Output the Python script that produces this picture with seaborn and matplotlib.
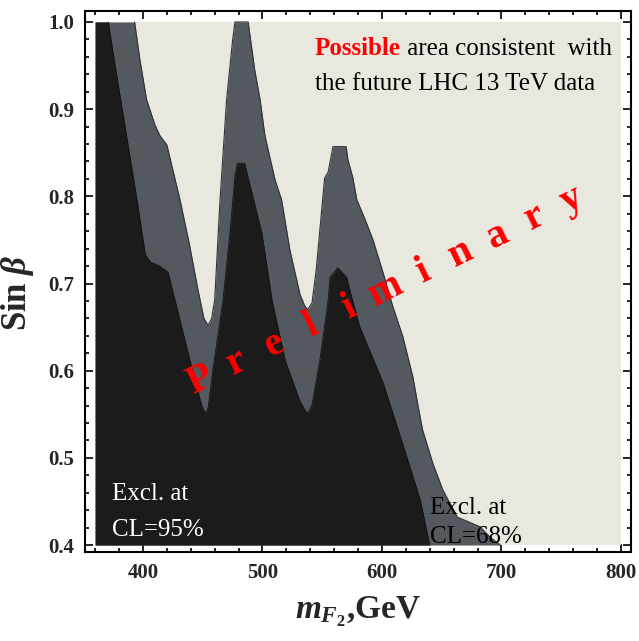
import numpy as np
import matplotlib
matplotlib.use("Agg")
import matplotlib.pyplot as plt
import seaborn as sns

# ---- data: boundaries of the excluded regions (x in GeV, y = sin beta) ----
black_x = [360, 371, 376, 395, 402, 406, 414, 421, 431, 443.5, 449, 452, 454.5, 458.5,
           467, 473, 477, 479, 485, 489.5, 499.5, 508, 519, 531, 535.5, 538, 541.5,
           548, 555, 556.5, 563, 570.5, 573, 581.5, 601, 619, 632, 640, 800]
black_y = [1.0, 1.0, 0.956, 0.796, 0.733, 0.725, 0.720, 0.713, 0.658, 0.589, 0.561, 0.551,
           0.557, 0.601, 0.681, 0.761, 0.824, 0.838, 0.838, 0.813, 0.758, 0.681, 0.612,
           0.566, 0.555, 0.551, 0.561, 0.612, 0.681, 0.707, 0.718, 0.707, 0.693, 0.650,
           0.586, 0.509, 0.452, 0.400, 0.400]

gray_x = [360, 393, 397.5, 403, 410, 414, 420, 424, 431, 439, 446, 451, 454.5, 457.5,
          460, 464.5, 470, 475, 477, 488, 493.5, 498, 502, 510.5, 516, 523, 531.5,
          535.5, 538, 541.5, 545, 548, 552, 555, 559, 570, 571.5, 575.5, 579, 586,
          592.5, 601, 609, 617.5, 626, 630, 634, 642.5, 651, 663, 673.5, 682, 690.5,
          699, 800]
gray_y = [1.0, 1.0, 0.956, 0.911, 0.882, 0.870, 0.859, 0.836, 0.796, 0.744, 0.693, 0.660,
          0.652, 0.660, 0.681, 0.796, 0.911, 0.979, 1.0, 1.0, 0.945, 0.911, 0.870, 0.819,
          0.796, 0.738, 0.687, 0.674, 0.670, 0.678, 0.716, 0.761, 0.821, 0.828, 0.857,
          0.857, 0.842, 0.822, 0.796, 0.773, 0.750, 0.712, 0.674, 0.639, 0.592, 0.561,
          0.532, 0.494, 0.463, 0.432, 0.426, 0.421, 0.409, 0.400, 0.400]

x_range = [360, 800]
y_range = [0.4, 1.0]
x_ticks = [400, 500, 600, 700, 800]
y_ticks = [0.4, 0.5, 0.6, 0.7, 0.8, 0.9, 1.0]
prelim_letters = list("Preliminary")

# ---- style ----
sns.set_theme(style="ticks")
plt.rcParams["font.family"] = ["Liberation Serif", "DejaVu Serif"]
plt.rcParams["mathtext.fontset"] = "custom"
plt.rcParams["mathtext.rm"] = "Liberation Serif:bold"
plt.rcParams["mathtext.bf"] = "Liberation Serif:bold"
plt.rcParams["mathtext.it"] = "Liberation Serif:italic:bold"

C_LIGHT = "#e8e8df"
C_GRAY = "#53595e"
C_BLACK = "#1b1b1b"

fig = plt.figure(figsize=(6.39, 6.41), dpi=100)
ax = fig.add_axes([85 / 639, (641 - 552) / 641, 546 / 639, 541 / 641])
ax.set_facecolor("white")

ax.fill_between(x_range, y_range[0], y_range[1], color=C_LIGHT, lw=0, zorder=1)
ax.fill_between(gray_x, y_range[0], gray_y, color=C_GRAY, lw=0, zorder=2)
sns.lineplot(x=gray_x[1:-1], y=gray_y[1:-1], ax=ax, color="#2e3236", lw=0.8,
             sort=False, zorder=3)
ax.fill_between(black_x, y_range[0], black_y, color=C_BLACK, lw=0, zorder=4)
sns.lineplot(x=black_x[1:-1], y=black_y[1:-1], ax=ax, color="#111111", lw=0.6,
             sort=False, zorder=5)

ax.set_xlim(351.5, 808.4)
ax.set_ylim(0.392, 1.0126)

ax.set_xticks(x_ticks)
ax.set_xticks(np.arange(360, 801, 20), minor=True)
ax.set_yticks(y_ticks)
ax.set_yticks(np.arange(0.4, 1.001, 0.02), minor=True)
ax.set_xticklabels([str(v) for v in x_ticks], fontsize=15, fontweight="bold")
ax.set_yticklabels([f"{v:.1f}" for v in y_ticks], fontsize=15, fontweight="bold")
ax.tick_params(which="both", direction="in", top=True, right=True, color="black", width=1.2)
ax.tick_params(which="major", length=6, pad=8)
ax.tick_params(which="minor", length=3)
for s in ax.spines.values():
    s.set_linewidth(1.5)
    s.set_color("black")
    s.set_zorder(10)

ax.set_xlabel(r"$m_{F_2}$,GeV", fontsize=24, fontweight="bold")
ax.set_ylabel(r"Sin $\beta$", fontsize=25, fontweight="bold")
ax.xaxis.set_label_coords(0.5, -0.08)
ax.yaxis.set_label_coords(-0.09, 0.48)

# annotations
ax.text(374, 0.458, "Excl. at", color="white", fontsize=18, va="center", ha="left", zorder=6)
ax.text(374, 0.417, "CL=95%", color="white", fontsize=18, va="center", ha="left", zorder=6)
ax.text(640, 0.443, "Excl. at", color="black", fontsize=18, va="center", ha="left", zorder=6)
ax.text(640, 0.409, "CL=68%", color="black", fontsize=18, va="center", ha="left", zorder=6)

t1 = ax.text(544, 0.962, "Possible", color="red", fontsize=18, fontweight="bold",
             va="baseline", ha="left", zorder=6)
ax.annotate(" area consistent  with", xy=(1, 0), xycoords=t1, va="bottom", ha="left",
            fontsize=18, color="black", zorder=6)
ax.text(544, 0.922, "the future LHC 13 TeV data", color="black", fontsize=18,
        va="baseline", ha="left", zorder=6)

# Preliminary, letters spread along a rising line
x0, y0 = 447.7, 0.589
x1, y1 = 759.0, 0.796
n = len(prelim_letters)
for i, ch in enumerate(prelim_letters):
    xi = x0 + (x1 - x0) * i / (n - 1)
    yi = y0 + (y1 - y0) * i / (n - 1)
    ax.text(xi, yi, ch, color="red", fontsize=29, fontweight="bold", rotation=26,
            ha="center", va="center", rotation_mode="anchor", zorder=7)

fig.savefig("out.png", dpi=100)
